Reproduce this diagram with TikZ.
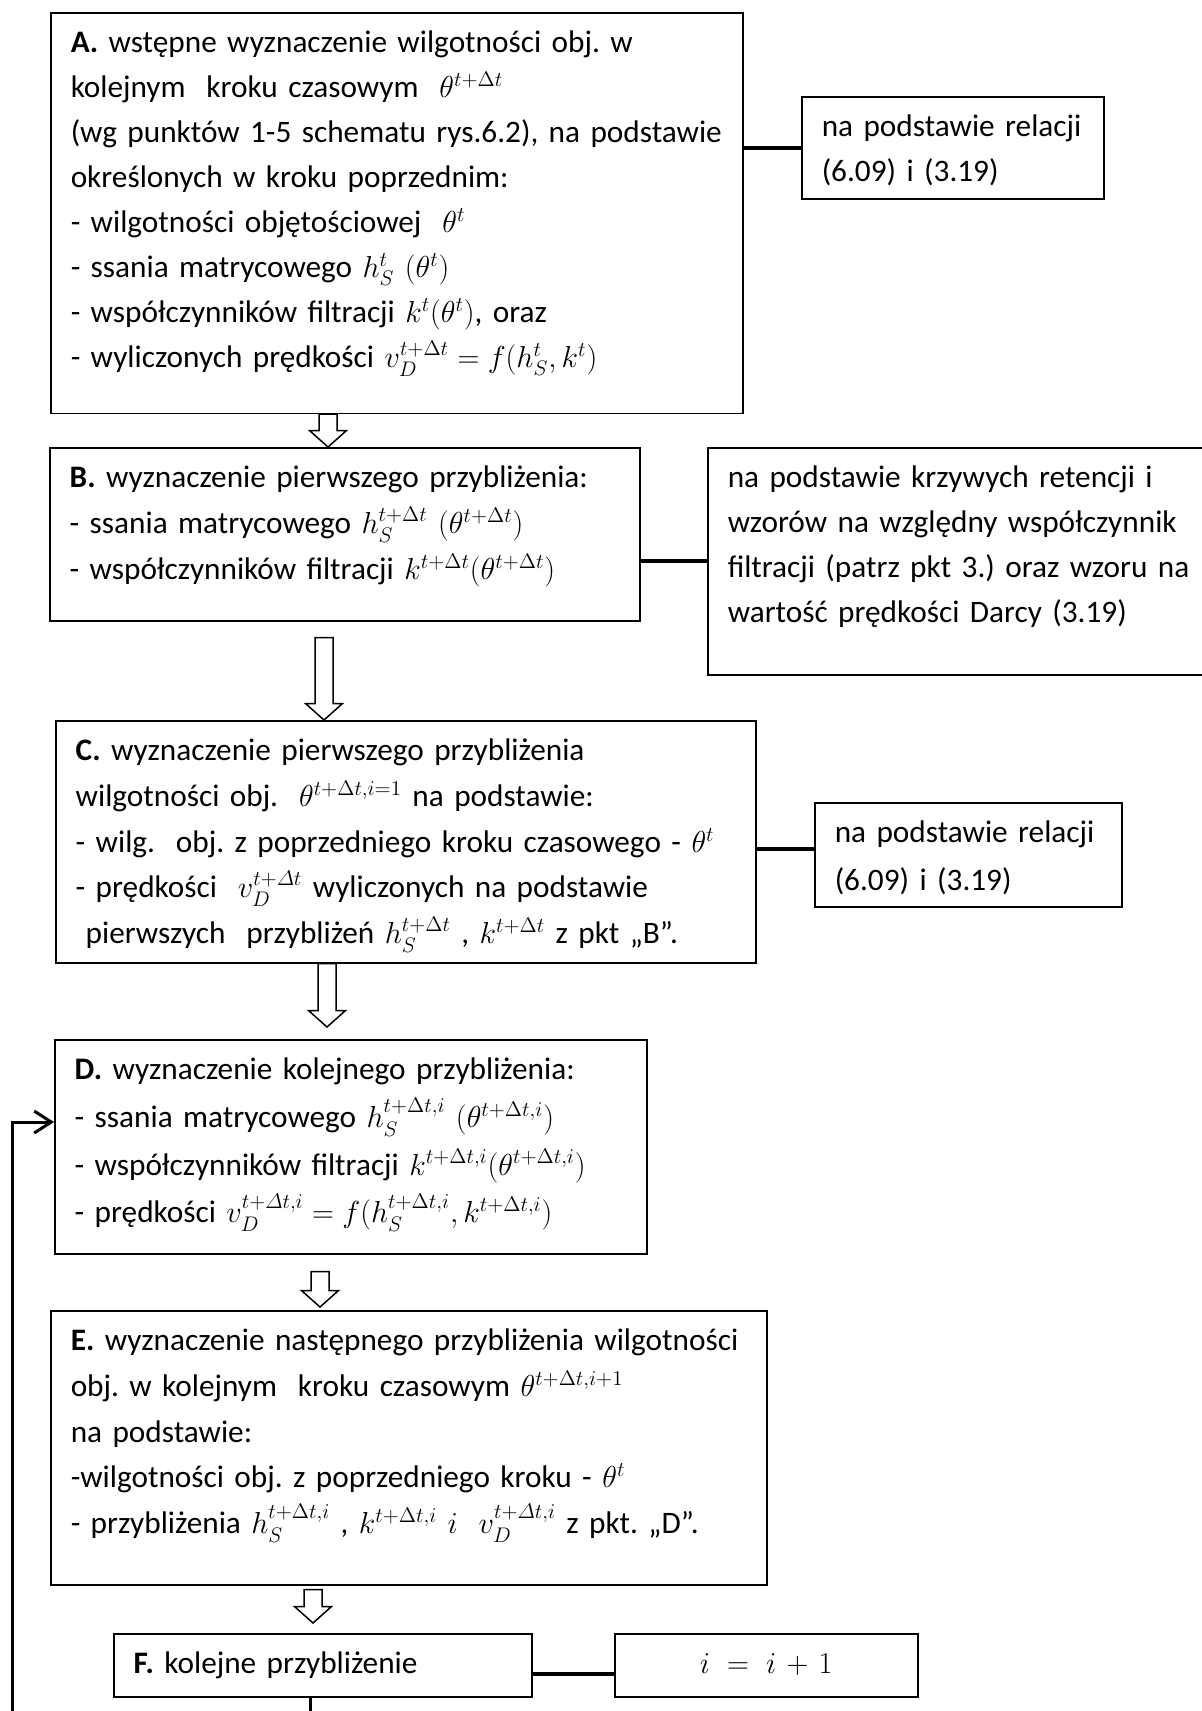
\documentclass[tikz,border=0pt]{standalone}
\usepackage{amsmath}
\usepackage{fontspec}
\setmainfont{Carlito}
\usetikzlibrary{calc}
\usetikzlibrary{arrows.meta}
\pgfdeclarelayer{edgelayer}
\pgfdeclarelayer{nodelayer}
\pgfsetlayers{edgelayer,nodelayer,main}
\frenchspacing
\newcommand{\boxfont}[1]{\fontsize{17.8pt}{#1}\selectfont}
\tikzstyle{none}=[inner sep=0pt]
\tikzstyle{stepbox}=[draw=black, line width=0.03cm, anchor=north west, align=left, inner xsep=0.4cm, inner ysep=0pt, text height=0.8cm, font={\boxfont{25.6pt}}]
\tikzstyle{sidelink}=[draw=black, line width=0.085cm]
\tikzstyle{backedge}=[draw=black, line width=0.06cm, -{Straight Barb[length=0.34cm,width=0.44cm]}]
\tikzstyle{hollow}=[draw=black, fill=white, line width=0.03cm, to path={let \p1=(\tikztostart), \p2=(\tikztotarget) in (\x1-0.18cm,\y1) -- (\x1-0.18cm,\y2+0.33cm) -- (\x1-0.37cm,\y2+0.33cm) -- (\x1,\y2) -- (\x1+0.37cm,\y2+0.33cm) -- (\x1+0.18cm,\y2+0.33cm) -- (\x1+0.18cm,\y1) -- cycle}]

\begin{document}
\begin{tikzpicture}
	\path [use as bounding box] (0, 0) rectangle (24.04, -34.22);
	\begin{pgfonlayer}{nodelayer}
		\node [style=stepbox, text width=13.04cm, text depth=7.21cm] (0) at (1.00, -0.24) {\textbf{A.} wstępne wyznaczenie wilgotności obj. w\\ kolejnym\ \ kroku czasowym\ \ $\theta^{t+\Delta t}$\\ (wg punktów 1-5 schematu rys.6.2), na podstawie\\ określonych w kroku poprzednim:\\ - wilgotności objętościowej\ \ $\theta^{t}$\\ - ssania matrycowego $h_S^{t}$ $(\theta^{t})$\\ - współczynników filtracji $k^{t}(\theta^{t})$, oraz\\ - wyliczonych prędkości $v_D^{t+\Delta t} = f(h_S^{t}, k^{t})$};
		\node [style=stepbox, text width=5.24cm, text depth=1.24cm] (1) at (16.02, -1.92) {na podstawie relacji\\ (6.09) i (3.19)};
		\node [style=stepbox, text width=11.00cm, text depth=2.66cm, font={\boxfont{26.2pt}}] (2) at (0.98, -8.94) {\textbf{B.} wyznaczenie pierwszego przybliżenia:\\ - ssania matrycowego $h_S^{t+\Delta t}$ $(\theta^{t+\Delta t})$\\ - współczynników filtracji $k^{t+\Delta t}(\theta^{t+\Delta t})$};
		\node [style=stepbox, text width=9.60cm, text depth=3.74cm] (3) at (14.14, -8.94) {na podstawie krzywych retencji i\\ wzorów na względny współczynnik\\ filtracji (patrz pkt 3.) oraz wzoru na\\ wartość prędkości Darcy (3.19)};
		\node [style=stepbox, text width=13.20cm, text depth=4.04cm, font={\boxfont{26.0pt}}] (4) at (1.10, -14.40) {\textbf{C.} wyznaczenie pierwszego przybliżenia\\ wilgotności obj.\ \ $\theta^{t+\Delta t,i=1}$ na podstawie:\\ - wilg.\ \ obj. z poprzedniego kroku czasowego - $\theta^{t}$\\ - prędkości\ \ $v_D^{t+\varDelta t}$ wyliczonych na podstawie\\ \hspace*{0.2cm}pierwszych\ \ przybliżeń $h_S^{t+\Delta t}$ , $k^{t+\Delta t}$ z pkt „B”.};
		\node [style=stepbox, text width=5.34cm, text depth=1.28cm, font={\boxfont{27.3pt}}] (5) at (16.28, -16.04) {na podstawie relacji\\ (6.09) i (3.19)};
		\node [style=stepbox, text width=11.04cm, text depth=3.48cm, font={\boxfont{27.1pt}}] (6) at (1.08, -20.78) {\textbf{D.} wyznaczenie kolejnego przybliżenia:\\ - ssania matrycowego $h_S^{t+\Delta t,i}$ $(\theta^{t+\Delta t,i})$\\ - współczynników filtracji $k^{t+\Delta t,i}(\theta^{t+\Delta t,i})$\\ - prędkości $v_D^{t+\varDelta t,i} = f(h_S^{t+\Delta t,i}, k^{t+\Delta t,i})$};
		\node [style=stepbox, text width=13.52cm, text depth=4.68cm, font={\boxfont{26.0pt}}] (7) at (1.00, -26.20) {\textbf{E.} wyznaczenie następnego przybliżenia wilgotności\\ obj. w kolejnym\ \ kroku czasowym $\theta^{t+\Delta t,i+1}$\\ na podstawie:\\ -wilgotności obj. z poprzedniego kroku - $\theta^{t}$\\ - przybliżenia $h_S^{t+\Delta t,i}$ , $k^{t+\Delta t,i}$ $i$\ \ $v_D^{t+\varDelta t,i}$ z pkt. „D”.};
		\node [style=stepbox, text width=7.56cm, text depth=0.46cm] (8) at (2.26, -32.66) {\textbf{F.} kolejne przybliżenie};
		\node [style=stepbox, text width=5.26cm, text depth=0.46cm, align=center] (9) at (12.28, -32.66) {$i = i + 1$};
		\coordinate (10) at (0.26, -22.44);
		\coordinate (11) at (0.26, -35.00);
	\end{pgfonlayer}
	\begin{pgfonlayer}{edgelayer}
		\draw [style=sidelink] (1.west) -- (1.west -| 0.east);
		\draw [style=sidelink] (3.west) -- (3.west -| 2.east);
		\draw [style=sidelink] ([yshift=0.12cm]5.west) -- ([yshift=0.12cm]5.west -| 4.east);
		\draw [style=sidelink] ([yshift=-0.17cm]9.west) -- ([yshift=-0.17cm]8.east);
		\draw [style=hollow] (6.56,0 |- 0.south) to (6.56,0 |- 2.north);
		\draw [style=hollow] ($(6.48,0 |- 2.south)+(0,-0.32)$) to (6.48,0 |- 4.north);
		\draw [style=hollow] (6.54,0 |- 4.south) to ($(6.54,0 |- 6.north)+(0,0.24)$);
		\draw [style=hollow] ($(6.40,0 |- 6.south)+(0,-0.34)$) to ($(6.40,0 |- 7.north)+(0,0.06)$);
		\draw [style=hollow] ($(6.26,0 |- 7.south)+(0,-0.08)$) to ($(6.26,0 |- 8.north)+(0,0.20)$);
		\draw [style=backedge] (6.2,0 |- 8.south) -- (6.2,0 |- 11) -- (11) -- (10) -- (10 -| 6.west);
	\end{pgfonlayer}
\end{tikzpicture}
\end{document}
